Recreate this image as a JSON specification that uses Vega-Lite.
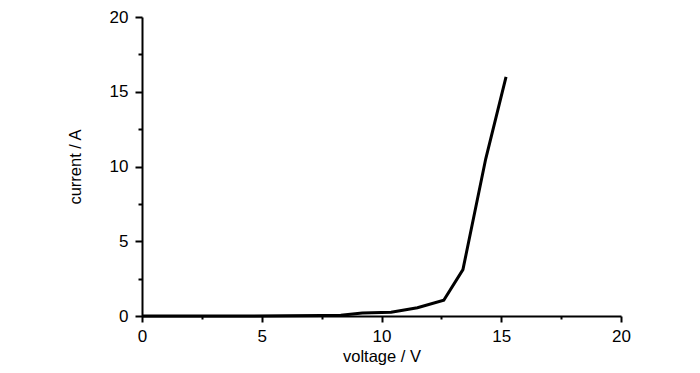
{
  "$schema": "https://vega.github.io/schema/vega-lite/v6.json",
  "autosize": {"type": "none"},
  "width": 479,
  "height": 299,
  "padding": {"left": 142, "top": 17, "right": 79, "bottom": 57},
  "background": "white",
  "config": {
    "view": {"stroke": null},
    "font": "Liberation Sans",
    "axis": {
      "domainColor": "black",
      "domainWidth": 2,
      "tickColor": "black",
      "tickWidth": 2,
      "grid": false,
      "labelColor": "black",
      "labelFontSize": 17,
      "labelFont": "Liberation Sans",
      "titleFont": "Liberation Sans",
      "titleFontWeight": "normal",
      "titleColor": "black",
      "titleFontSize": 16.5
    }
  },
  "data": {
    "values": [
      {"voltage": 0, "current": 0},
      {"voltage": 2, "current": 0},
      {"voltage": 4, "current": 0},
      {"voltage": 6, "current": 0.01},
      {"voltage": 7.5, "current": 0.03},
      {"voltage": 8.3, "current": 0.05},
      {"voltage": 9.2, "current": 0.2},
      {"voltage": 10.4, "current": 0.25},
      {"voltage": 11.5, "current": 0.55},
      {"voltage": 12.6, "current": 1.05},
      {"voltage": 13.4, "current": 3.1},
      {"voltage": 14.35, "current": 10.5},
      {"voltage": 15.2, "current": 16}
    ]
  },
  "mark": {"type": "line", "color": "black", "strokeWidth": 3, "clip": false},
  "encoding": {
    "x": {
      "field": "voltage",
      "type": "quantitative",
      "scale": {"domain": [0, 20], "nice": false, "zero": false},
      "axis": {
        "title": "voltage / V",
        "values": [0, 2.5, 5, 7.5, 10, 12.5, 15, 17.5, 20],
        "labelExpr": "datum.value % 5 === 0 ? datum.label : ''",
        "tickSize": {"condition": {"test": "datum.value % 5 === 0", "value": 6}, "value": 3},
        "labelPadding": 6,
        "titlePadding": 4,
        "labelFlush": false,
        "labelOverlap": false
      }
    },
    "y": {
      "field": "current",
      "type": "quantitative",
      "scale": {"domain": [0, 20], "nice": false},
      "axis": {
        "title": "current / A",
        "values": [0, 2.5, 5, 7.5, 10, 12.5, 15, 17.5, 20],
        "labelExpr": "datum.value % 5 === 0 ? datum.label : ''",
        "tickSize": {"condition": {"test": "datum.value % 5 === 0", "value": 7}, "value": 4},
        "labelPadding": 7,
        "titlePadding": 26,
        "labelFlush": false,
        "labelOverlap": false
      }
    }
  }
}
